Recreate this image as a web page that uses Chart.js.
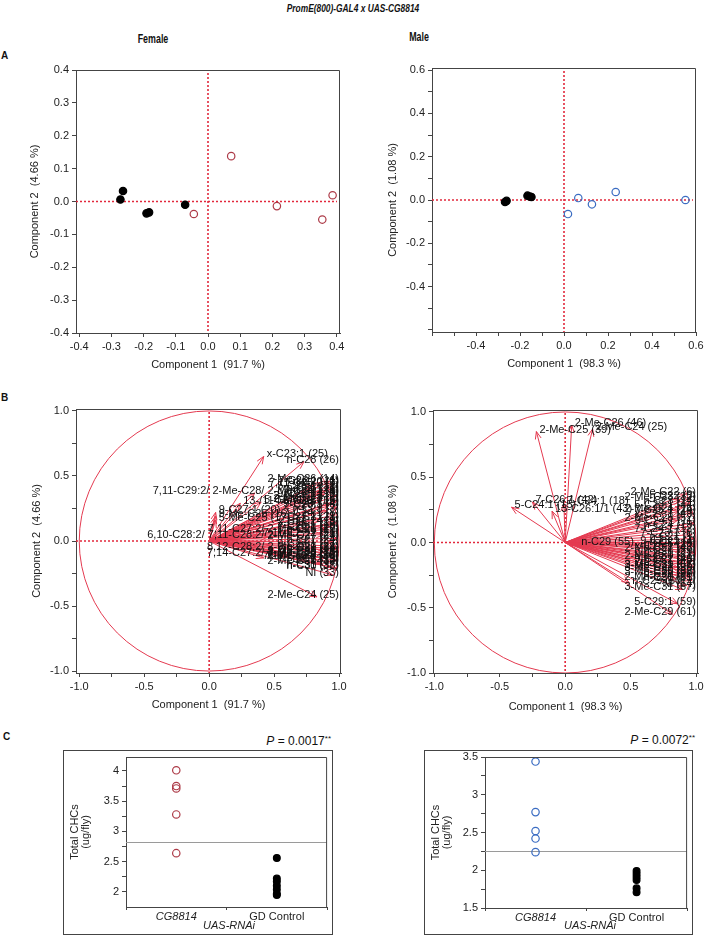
<!DOCTYPE html>
<html>
<head>
<meta charset="utf-8">
<script src="https://cdn.jsdelivr.net/npm/chart.js@4.4.1/dist/chart.umd.min.js"></script>
<style>
body { margin: 0; background: #fff; font-family: 'Liberation Sans', Arial, sans-serif; color: #111; }
#page { position: relative; width: 706px; height: 944px; overflow: hidden; }
.t { position: absolute; white-space: nowrap; line-height: 1; }
.c { transform: translate(-50%, -50%); font-size: 11px; color: #222; }
.n { transform: translate(-50%, -50%) scaleX(0.74); font-weight: bold; font-size: 12px; }
.r { transform: translate(-100%, -50%); font-size: 12px; }
.r sup { font-size: 8px; vertical-align: 4px; line-height: 0; }
.lt { font-weight: bold; font-size: 10px; transform: translateY(-50%); }
canvas { position: absolute; }
.box { position: absolute; border: 1px solid #444; }
</style>
</head>
<body>
<div id="page">
  <div class="t n" style="left:353px;top:8px;font-style:italic;font-size:11px;transform:translate(-50%,-50%) scaleX(0.76)">PromE(800)-GAL4 x UAS-CG8814</div>
  <div class="t n" style="left:153px;top:39px">Female</div>
  <div class="t n" style="left:419px;top:37px">Male</div>
  <div class="t lt" style="left:1px;top:56px">A</div>
  <div class="t lt" style="left:1px;top:398px">B</div>
  <div class="t lt" style="left:3px;top:737px">C</div>

  <canvas id="aFemale" width="350" height="315" style="left:0px;top:60px"></canvas>
  <canvas id="aMale" width="353" height="315" style="left:353px;top:60px"></canvas>
  <canvas id="bFemale" width="350" height="320" style="left:0px;top:395px"></canvas>
  <canvas id="bMale" width="353" height="320" style="left:353px;top:395px"></canvas>

  <div class="t r" style="left:331px;top:741px"><i>P</i> = 0.0017<sup>**</sup></div>
  <div class="t r" style="left:695px;top:740px"><i>P</i> = 0.0072<sup>**</sup></div>
  <div class="box" style="left:63px;top:750px;width:268px;height:183px"></div>
  <div class="box" style="left:424px;top:750px;width:267px;height:183px"></div>
  <canvas id="cFemale" width="268" height="183" style="left:64px;top:751px"></canvas>
  <canvas id="cMale" width="267" height="183" style="left:425px;top:751px"></canvas>
  <div class="t c" style="left:229px;top:925px;font-style:italic">UAS-RNAi</div>
  <div class="t c" style="left:590px;top:925px;font-style:italic">UAS-RNAi</div>
</div>

<script>
// ---- A: PCA scores ----
var femaleCtrlX = [-0.272, -0.264, -0.191, -0.183, -0.071];
var femaleCtrlY = [0.006, 0.032, -0.036, -0.033, -0.010];
var femaleRnaiX = [-0.044, 0.072, 0.214, 0.355, 0.387];
var femaleRnaiY = [-0.038, 0.138, -0.014, -0.055, 0.019];

var maleCtrlX = [-0.268, -0.261, -0.166, -0.156, -0.148];
var maleCtrlY = [-0.009, -0.004, 0.020, 0.016, 0.014];
var maleRnaiX = [0.018, 0.065, 0.127, 0.235, 0.552];
var maleRnaiY = [-0.065, 0.009, -0.020, 0.037, 0.000];

// ---- B: loadings (arrow tips) ----
var femaleLoadX = [0.42, 0.73, 0.35, 0.93, 0.86, 0.80, 0.96, 0.90, 0.98, 0.87, 0.24, 0.40, 0.94, 0.99, 0.05, 0.05, 0.05,
  0.91, 0.97, 0.86, 0.99, 0.93, 0.97, 0.40, 0.88, 0.45, 0.99, 0.95, 0.98, 0.50, 0.92, 0.55, 0.97, 0.90, 0.99, 0.86,
  0.94, 0.95, 0.83, 0.42, 0.60,
  0.95, 0.89, 0.99, 0.92, 0.96, 0.90, 0.99, 0.93, 0.98, 0.88, 0.96, 0.85];
var femaleLoadY = [0.65, 0.61, 0.37, 0.46, 0.45, 0.43, 0.41, 0.39, 0.35, 0.33, 0.29, 0.30, 0.29, 0.26, 0.22, 0.19, 0.16,
  0.23, 0.20, 0.17, 0.14, 0.11, 0.07, 0.08, 0.05, 0.03, 0.02, -0.01, -0.04, -0.06, -0.07, -0.11, -0.10, -0.13, -0.15, -0.17,
  -0.20, -0.26, -0.43, -0.13, -0.12,
  0.44, 0.36, 0.31, 0.27, 0.17, 0.09, -0.06, -0.16, -0.21, -0.09, 0.13, 0.38];
var femaleLoadNames = ['x-C23:1 (25)', 'n-C28 (26)', '7,11-C29:2/ 2-Me-C28/ 2-Me-C29 (31)', '2-Me-C26 (14)', '7-C25:1 (11)',
  '7,11-C25:2 (9)', '5-C25:1 (12)', 'n-C25 (13)', '9-C25:1 (10)', '2-Me-C22 (2)', '13-/11-Me-C25 (15)', '5-C27:1 (17)',
  '5-C23:1 (5)', '7-C23:1 (6)', '9-C27:1 (20)', '9-Me-C25 (16)', '5-Me-C25 (17)', 'n-C23 (7)', '7-C24:1 (8)',
  '7-C27:1 (23)', 'n-C24 (9)', 'x-C25:1 (18)', 'n-C26 (19)', '7,11-C27:2/ 2-Me-C26 (22)', '7,11-C27:2 (21)',
  '6,10-C28:2/ 7,11-C28:2/ 2-Me-C27 (29)', '2-Me-C27 (24)', 'n-C27 (24)', '9-C27:1 (27)', '8,12-C28:2/ 2-Me-C27 (28)',
  'n-C29 (34)', '7,14-C27:2/ 2-Me-C26 (27)', '2-Me-C30 (35)', '7,11-C31:2 (36)', 'n-C22 (3)', '2-Me-C29 (32)',
  'n-C31 (37)', 'NI (33)', '2-Me-C24 (25)', '2-Me-C28 (30)', '2-Me-C26 (19)',
  'n-C20 (1)', 'x-C24:1 (4)', '2-Me-C23 (8)', '9-C23:1 (4)', 'n-C21 (1)', '7-C26:1 (20)', '9-C29:1 (32)',
  '7-C29:1 (33)', 'n-C30 (38)', '2-Me-C25 (16)', 'x-C26:1 (18)', '7-C24:1 (8)'];

var maleLoadX = [-0.22, 0.05, 0.21, -0.41, -0.25, -0.01, -0.10, 0.92, 0.88, 0.95, 0.90, 0.97, 0.86, 0.93, 0.97, 0.99,
  0.94, 0.10, 0.98, 0.92, 0.99, 0.89, 0.96, 0.90, 0.97, 0.86, 0.93, 0.88, 0.95, 0.49, 0.93, 0.86, 0.82, 0.99, 0.91, 0.85,
  0.96, 0.99, 0.95, 0.98, 0.94, 0.99, 0.91, 0.87, 0.97, 0.90];
var maleLoadY = [0.85, 0.90, 0.87, 0.27, 0.31, 0.30, 0.24, 0.37, 0.33, 0.30, 0.27, 0.23, 0.17, 0.12, 0.06, 0.03,
  0.00, -0.01, -0.03, -0.06, -0.08, -0.10, -0.12, -0.15, -0.17, -0.19, -0.21, -0.24, -0.26, -0.31, -0.33, -0.47, -0.55,
  -0.01, 0.20, -0.28,
  0.34, 0.15, 0.09, -0.14, -0.23, -0.19, -0.04, 0.24, -0.29, -0.36];
var maleLoadNames = ['2-Me-C25 (39)', '2-Me-C26 (46)', '2-Me-C24 (25)', '5-C24:1 (15)', '7-C26:1 (42)', '7-C24:1 (18)',
  '13-C26:1/1 (43)', '2-Me-C22 (6)', '2-Me-C23 (32)', 'n-C23 (14)', '5-C23:1 (44)', '7-C25:1 (24)', '2-Me-C28 (52)',
  'n-C24 (19)', '7-C23:1 (8)', 'n-C21 (1)', '9-C23:1 (7)', 'n-C29 (55)', 'n-C25 (20)', '2-Me-C27 (48)', 'n-C26 (29)',
  '9-C25:1 (21)', '2-Me-C30 (63)', 'n-C27 (45)', '7-C27:1 (47)', '3-Me-C29 (57)', '3-Me-C27 (50)', '3-Me-C25 (38)',
  'n-C28 (53)', 'n-C29 (60)', 'NI (64)', '5-C29:1 (59)', '2-Me-C29 (61)', 'n-C22 (4)', 'x-C27:1 (49)', '2-Me-C26 (51)',
  'n-C22 (5)', '9-C24:1 (11)', '7-C24:1 (12)', '9-C27:1 (46)', 'n-C30 (62)', '2-Me-C31 (66)', 'x-C25:1 (22)',
  '2-Me-C24 (16)', 'n-C31 (65)', '3-Me-C31 (67)'];

// ---- C: total CHCs (ug/fly) ----
var groups = ['CG8814', 'GD Control'];
var femaleRnaiCHC = [4.01, 3.75, 3.71, 3.28, 2.64];
var femaleCtrlCHC = [2.56, 2.22, 2.17, 2.10, 2.04, 1.97, 1.95];
var femaleMean = 2.82;
var maleRnaiCHC = [3.44, 2.77, 2.52, 2.42, 2.24];
var maleCtrlCHC = [1.99, 1.95, 1.91, 1.87, 1.76, 1.71];
var maleMean = 2.25;

// ---- ticks ----
var tenthTicks = [-0.4, -0.3, -0.2, -0.1, 0, 0.1, 0.2, 0.3, 0.4];
var sixTicks = [-0.6, -0.5, -0.4, -0.3, -0.2, -0.1, 0, 0.1, 0.2, 0.3, 0.4, 0.5, 0.6];
var sixLabels = [-0.4, -0.2, 0, 0.2, 0.4, 0.6];
var unitTicks = [-1, -0.75, -0.5, -0.25, 0, 0.25, 0.5, 0.75, 1];
var unitLabels = [-1, -0.5, 0, 0.5, 1];
var femaleCTicks = [2, 2.25, 2.5, 2.75, 3, 3.25, 3.5, 3.75, 4];
var femaleCLabels = [2, 2.5, 3, 3.5, 4];
var maleCTicks = [1.5, 1.75, 2, 2.25, 2.5, 2.75, 3, 3.25, 3.5];
var maleCLabels = [1.5, 2, 2.5, 3, 3.5];

var DOTS = '#e2283c';
var ARROW = '#e43a50';
var FEM = '#ad3b48';
var MALE = '#3a6cc2';
var AXIS = '#444';
var FONT = "'Liberation Sans', Arial, sans-serif";

Chart.defaults.font.family = FONT;
Chart.defaults.font.size = 11;
Chart.defaults.color = '#222';

function same(a, b) { return Math.abs(a - b) < 1e-6; }

function linAxis(o) {
  return {
    type: 'linear', position: o.pos, min: o.min, max: o.max,
    afterBuildTicks: function (s) { s.ticks = o.ticks.map(function (v) { return { value: v }; }); },
    afterFit: function (s) {
      if (o.pos == 'bottom') s.height = o.size; else s.width = o.size;
      s.paddingLeft = 0; s.paddingRight = 0; s.paddingTop = 0; s.paddingBottom = 0;
    },
    grid: { drawOnChartArea: false, color: AXIS, tickLength: 4 },
    border: { color: AXIS },
    ticks: {
      autoSkip: false, maxRotation: 0, padding: 3, color: '#222',
      callback: function (v) {
        if (!o.labels.some(function (l) { return same(l, v); })) return '';
        return o.digits == null ? String(v) : v.toFixed(o.digits);
      }
    },
    title: { display: true, text: o.title, color: '#222', padding: o.titlePad, font: o.titleFont || { size: 11 } }
  };
}

function catAxis(size) {
  return {
    type: 'category', position: 'bottom', offset: true,
    afterFit: function (s) { s.height = size; s.paddingLeft = 0; s.paddingRight = 0; },
    grid: { offset: true, drawOnChartArea: false, color: AXIS, tickLength: 3 },
    border: { color: AXIS },
    ticks: { padding: 0, color: '#222', font: function (c) { return { size: 11, style: c.index === 0 ? 'italic' : 'normal' }; } },
    title: { display: false }
  };
}

// frame, dotted zero lines, correlation circle, mean line
var boxPlugin = {
  id: 'box',
  beforeDatasetsDraw: function (c, args, opt) {
    var a = c.chartArea, ctx = c.ctx, sx = c.scales.x, sy = c.scales.y;
    ctx.save();
    ctx.beginPath(); ctx.rect(a.left, a.top, a.width, a.height); ctx.clip();
    if (opt.circle) {
      var cx = sx.getPixelForValue(0), cy = sy.getPixelForValue(0);
      ctx.strokeStyle = ARROW; ctx.lineWidth = 1;
      ctx.beginPath();
      ctx.ellipse(cx, cy, sx.getPixelForValue(1) - cx, cy - sy.getPixelForValue(1), 0, 0, Math.PI * 2);
      ctx.stroke();
    }
    if (opt.zero) {
      var px = sx.getPixelForValue(0), py = sy.getPixelForValue(0);
      ctx.strokeStyle = DOTS; ctx.lineWidth = 1.6; ctx.setLineDash([2, 2]);
      ctx.beginPath();
      ctx.moveTo(px, a.top + 3); ctx.lineTo(px, a.bottom);
      ctx.moveTo(a.left, py); ctx.lineTo(a.right - 3, py);
      ctx.stroke();
    }
    if (opt.mean != null) {
      var my = Math.round(sy.getPixelForValue(opt.mean)) + 0.5;
      ctx.strokeStyle = '#9a9a9a'; ctx.lineWidth = 1;
      ctx.beginPath(); ctx.moveTo(a.left, my); ctx.lineTo(a.right, my); ctx.stroke();
    }
    ctx.restore();
  },
  afterDraw: function (c) {
    var a = c.chartArea, ctx = c.ctx;
    ctx.save();
    ctx.strokeStyle = AXIS; ctx.lineWidth = 1;
    ctx.beginPath();
    ctx.moveTo(a.left, a.top + 0.5); ctx.lineTo(a.right - 0.5, a.top + 0.5); ctx.lineTo(a.right - 0.5, a.bottom);
    ctx.stroke();
    ctx.restore();
  }
};

// arrow heads + variable names
var vecPlugin = {
  id: 'vec',
  afterDatasetsDraw: function (c, args, opt) {
    if (!opt.xs) return;
    var sx = c.scales.x, sy = c.scales.y, a = c.chartArea, ctx = c.ctx;
    var x0 = sx.getPixelForValue(0), y0 = sy.getPixelForValue(0);
    ctx.save();
    ctx.strokeStyle = ARROW; ctx.lineWidth = 1;
    opt.xs.forEach(function (vx, i) {
      var px = sx.getPixelForValue(vx), py = sy.getPixelForValue(opt.ys[i]);
      var ang = Math.atan2(py - y0, px - x0);
      ctx.beginPath();
      ctx.moveTo(px - 8 * Math.cos(ang - 0.38), py - 8 * Math.sin(ang - 0.38));
      ctx.lineTo(px, py);
      ctx.lineTo(px - 8 * Math.cos(ang + 0.38), py - 8 * Math.sin(ang + 0.38));
      ctx.stroke();
    });
    ctx.font = '11px ' + FONT;
    ctx.fillStyle = '#111'; ctx.textBaseline = 'middle';
    opt.xs.forEach(function (vx, i) {
      var px = sx.getPixelForValue(vx), py = sy.getPixelForValue(opt.ys[i]);
      var w = ctx.measureText(opt.names[i]).width;
      ctx.fillText(opt.names[i], Math.min(px + 3, a.right - 2 - w), py - 2);
    });
    ctx.restore();
  }
};

function pts(xs, ys) { return xs.map(function (x, i) { return { x: x, y: ys[i] }; }); }

function dotSet(data, color, filled, r) {
  return {
    data: data, pointRadius: r || 3.7, pointHoverRadius: r || 3.7, borderWidth: 1.2,
    borderColor: color, backgroundColor: filled ? color : 'rgba(0,0,0,0)'
  };
}

function arrowSets(xs, ys) {
  return xs.map(function (x, i) {
    return { data: [{ x: 0, y: 0 }, { x: x, y: ys[i] }], showLine: true, borderColor: ARROW, borderWidth: 1, pointRadius: 0 };
  });
}

function makeChart(id, datasets, xAx, yAx, pad, plug, labels) {
  return new Chart(document.getElementById(id), {
    type: 'scatter',
    data: { labels: labels, datasets: datasets },
    options: {
      responsive: false, animation: false, events: [],
      layout: { padding: { top: pad[0], right: pad[1], bottom: 0, left: 0 } },
      scales: { x: xAx, y: yAx },
      plugins: { legend: { display: false }, tooltip: { enabled: false }, box: plug.box || {}, vec: plug.vec || {} }
    },
    plugins: [boxPlugin, vecPlugin]
  });
}

// A female
makeChart('aFemale',
  [dotSet(pts(femaleCtrlX, femaleCtrlY), '#000', true), dotSet(pts(femaleRnaiX, femaleRnaiY), FEM, false)],
  linAxis({ pos: 'bottom', min: -0.41, max: 0.41, ticks: tenthTicks, labels: tenthTicks, digits: 1, size: 42,
    title: 'Component 1  (91.7 %)', titlePad: { top: 0, bottom: 3 } }),
  linAxis({ pos: 'left', min: -0.4, max: 0.4, ticks: tenthTicks, labels: tenthTicks, digits: 1, size: 76,
    title: 'Component 2  (4.66 %)', titlePad: { top: 28, bottom: 0 } }),
  [10, 10], { box: { zero: true } });

// A male
makeChart('aMale',
  [dotSet(pts(maleCtrlX, maleCtrlY), '#000', true), dotSet(pts(maleRnaiX, maleRnaiY), MALE, false)],
  linAxis({ pos: 'bottom', min: -0.6, max: 0.6, ticks: sixTicks, labels: sixLabels, digits: 1, size: 43,
    title: 'Component 1  (98.3 %)', titlePad: { top: 0, bottom: 4 } }),
  linAxis({ pos: 'left', min: -0.61, max: 0.61, ticks: sixTicks, labels: sixLabels, digits: 1, size: 79,
    title: 'Component 2  (1.08 %)', titlePad: { top: 33, bottom: 0 } }),
  [8, 10], { box: { zero: true } });

// B female
makeChart('bFemale', arrowSets(femaleLoadX, femaleLoadY),
  linAxis({ pos: 'bottom', min: -1.025, max: 1.015, ticks: unitTicks, labels: unitLabels, digits: 1, size: 42,
    title: 'Component 1  (91.7 %)', titlePad: { top: 0, bottom: 3 } }),
  linAxis({ pos: 'left', min: -1.015, max: 1.015, ticks: unitTicks, labels: unitLabels, digits: 1, size: 76,
    title: 'Component 2  (4.66 %)', titlePad: { top: 30, bottom: 0 } }),
  [14, 9], { box: { zero: true, circle: true }, vec: { xs: femaleLoadX, ys: femaleLoadY, names: femaleLoadNames } });

// B male
makeChart('bMale', arrowSets(maleLoadX, maleLoadY),
  linAxis({ pos: 'bottom', min: -1.01, max: 1.015, ticks: unitTicks, labels: unitLabels, digits: 1, size: 42,
    title: 'Component 1  (98.3 %)', titlePad: { top: 0, bottom: 1 } }),
  linAxis({ pos: 'left', min: -1.0, max: 1.015, ticks: unitTicks, labels: unitLabels, digits: 1, size: 80,
    title: 'Component 2  (1.08 %)', titlePad: { top: 33, bottom: 0 } }),
  [15, 8], { box: { zero: true, circle: true }, vec: { xs: maleLoadX, ys: maleLoadY, names: maleLoadNames } });

// C female
makeChart('cFemale',
  [dotSet(femaleRnaiCHC.map(function (v) { return { x: groups[0], y: v }; }), FEM, false, 3.7),
   dotSet(femaleCtrlCHC.map(function (v) { return { x: groups[1], y: v }; }), '#000', true, 3.4)],
  catAxis(27),
  linAxis({ pos: 'left', min: 1.75, max: 4.23, ticks: femaleCTicks, labels: femaleCLabels, size: 62,
    title: ['Total CHCs', '(ug/fly)'], titlePad: { top: 5, bottom: 0 }, titleFont: { size: 11, lineHeight: 1.05 } }),
  [6, 0], { box: { mean: femaleMean } }, groups);

// C male
makeChart('cMale',
  [dotSet(maleRnaiCHC.map(function (v) { return { x: groups[0], y: v }; }), MALE, false, 3.7),
   dotSet(maleCtrlCHC.map(function (v) { return { x: groups[1], y: v }; }), '#000', true, 3.4)],
  catAxis(26),
  linAxis({ pos: 'left', min: 1.5, max: 3.5, ticks: maleCTicks, labels: maleCLabels, size: 60,
    title: ['Total CHCs', '(ug/fly)'], titlePad: { top: 5, bottom: 0 }, titleFont: { size: 11, lineHeight: 1.05 } }),
  [6, 0], { box: { mean: maleMean } }, groups);
</script>
</body>
</html>
